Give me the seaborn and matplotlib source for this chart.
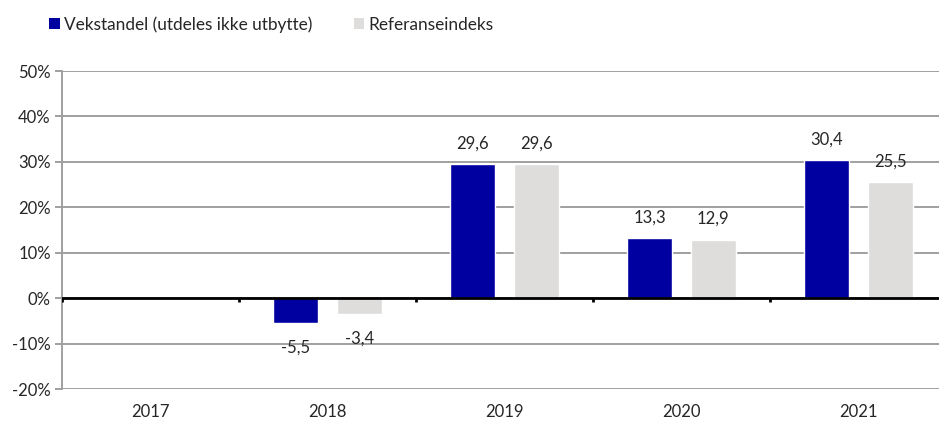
import pandas as pd
import numpy as np
import seaborn as sns
import matplotlib.pyplot as plt
from matplotlib.patches import Patch

# data (percent)
years = ["2017", "2018", "2019", "2020", "2021"]
fund_years = ["2018", "2019", "2020", "2021"]
fund_vals = [-5.5, 29.6, 13.3, 30.4]
index_vals = [-3.4, 29.6, 12.9, 25.5]
series_names = ["Vekstandel (utdeles ikke utbytte)", "Referanseindeks"]
colors = ["#0000A0", "#DEDDDC"]
y_ticks = [-20, -10, 0, 10, 20, 30, 40, 50]

df = pd.concat([
    pd.DataFrame({"År": fund_years, "Serie": series_names[0], "Verdi": fund_vals}),
    pd.DataFrame({"År": fund_years, "Serie": series_names[1], "Verdi": index_vals}),
])

sns.set_style("white")
plt.rcParams["font.family"] = ["Lato", "DejaVu Sans"]
fs = 12

fig = plt.figure(figsize=(9.39, 4.21), dpi=100)
ax = fig.add_axes([62 / 939, 32 / 421, 885 / 939, 318 / 421])

sns.barplot(data=df, x="År", y="Verdi", hue="Serie", order=years,
            hue_order=series_names, palette=colors, width=0.72, gap=0.29,
            errorbar=None, legend=False, ax=ax, saturation=1)

ax.set_xlim(-0.5, 4.5)
ax.set_ylim(-20, 50)
ax.set_yticks(y_ticks)
ax.set_yticklabels([f"{v}%" for v in y_ticks], fontsize=fs)
ax.yaxis.grid(True, color="#A0A0A0", lw=1.4)
ax.set_axisbelow(True)
ax.set_xlabel("")
ax.set_ylabel("")

for s in ["top", "right", "bottom"]:
    ax.spines[s].set_visible(False)
ax.spines["left"].set_color("#A0A0A0")
ax.spines["left"].set_linewidth(1.4)
ax.tick_params(axis="y", length=5, color="#A0A0A0", width=1.4, left=True, pad=3)
ax.tick_params(axis="x", length=0, pad=11, labelsize=fs)

# zero line with category boundary ticks
ax.axhline(0, color="black", lw=2, zorder=3)
ax.vlines(np.arange(-0.5, 4.0, 1.0), -0.8, 0, color="black", lw=2, zorder=3)

for cont in ax.containers:
    vals = cont.datavalues
    pos = [f"{v:.1f}".replace(".", ",") if v >= 0 else "" for v in vals]
    neg = [f"{v:.1f}".replace(".", ",") if v < 0 else "" for v in vals]
    ax.bar_label(cont, labels=pos, padding=9, fontsize=fs)
    ax.bar_label(cont, labels=neg, padding=12, fontsize=fs)

handles = [Patch(facecolor=c, edgecolor="none") for c in colors]
fig.legend(handles, series_names, loc="upper left", bbox_to_anchor=(32 / 939, 1.003),
           ncol=2, frameon=False, fontsize=12.4, handlelength=0.6, handleheight=0.6,
           handletextpad=0.25, columnspacing=2.4, borderaxespad=0.6)

fig.savefig("out.png", dpi=100)
